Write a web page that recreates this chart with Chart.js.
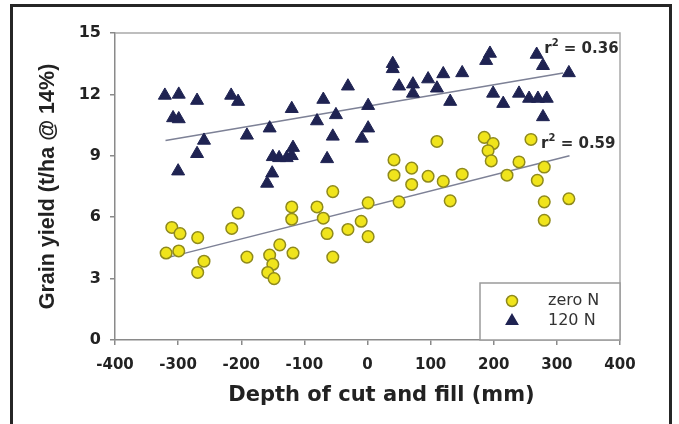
<!DOCTYPE html>
<html>
<head>
<meta charset="utf-8">
<script src="https://cdn.jsdelivr.net/npm/chart.js@4.4.1/dist/chart.umd.min.js"></script>
<style>
  html, body { margin: 0; padding: 0; background: #fff; overflow: hidden; }
  #wrap { position: relative; width: 679px; height: 424px; }
  #frame { position: absolute; left: 10px; top: 4px; width: 662px; height: 440px; box-sizing: border-box; border: 3px solid #262626; pointer-events: none; }
  canvas { position: absolute; left: 0; top: 0; }
</style>
</head>
<body>
<div id="wrap">
  <canvas id="chart" width="679" height="424"></canvas>
  <div id="frame"></div>
</div>
<script>
// zero N plots (circles)
const zeroNX = [-310, -297, -269, -319, -299, -259, -269, -215, -205, -191, -155, -139, -118, -150, -158, -148,
  -120, -120, -80, -70, -55, -64, -55, -31, -10, 1, 1, 42, 42, 70, 70, 96, 120, 150, 110, 50, 131,
  185, 199, 191, 196, 259, 221, 240, 280, 269, 280, 319, 280];
const zeroNY = [5.5, 5.2, 5.0, 4.25, 4.35, 3.85, 3.3, 5.45, 6.2, 4.05, 4.15, 4.65, 4.25, 3.7, 3.3, 3.0,
  6.5, 5.9, 6.5, 5.95, 7.25, 5.2, 4.05, 5.4, 5.8, 5.05, 6.7, 8.8, 8.05, 8.4, 7.6, 8.0, 7.75, 8.1, 9.7, 6.75, 6.8,
  9.9, 9.6, 9.25, 8.75, 9.8, 8.05, 8.7, 8.45, 7.8, 6.75, 6.9, 5.85];

// 120 N plots (triangles)
const n120X = [-321, -299, -270, -216, -205, -308, -299, -120, -259, -191, -155, -270, -300, -150, -140, -128,
  -118, -120, -151, -159, -70, -31, -80, -50, 1, -55, 1, -9, -64, 40, 40, 50, 72, 72, 96, 110, 120, 150, 131,
  188, 194, 268, 278, 319, 199, 215, 240, 256, 270, 284, 278];
const n120Y = [11.95, 12.0, 11.7, 11.95, 11.65, 10.85, 10.8, 11.3, 9.75, 10.0, 10.35, 9.1, 8.25, 8.95, 8.9, 8.9,
  9.4, 9.0, 8.15, 7.65, 11.75, 12.4, 10.7, 11.0, 11.45, 9.95, 10.35, 9.85, 8.85, 13.5, 13.25, 12.4, 12.5, 12.05,
  12.75, 12.3, 13.0, 13.05, 11.65, 13.65, 14.0, 13.95, 13.4, 13.05, 12.05, 11.55, 12.05, 11.8, 11.8, 11.8, 10.9];

// fitted lines (end points)
const zeroNFitX = [-320, 320];
const zeroNFitY = [4.0, 9.0];
const n120FitX = [-320, 310];
const n120FitY = [9.75, 13.05];

// r-squared labels
const r2Values = ['0.36', '0.59'];
const r2AnchorX = [280, 275];
const r2AnchorY = [14.2, 9.57];

// axes
const xMin = -400, xMax = 400, xStep = 100;
const yMin = 0, yMax = 15, yStep = 3;

const zip = (xs, ys) => xs.map((v, i) => ({ x: v, y: ys[i] }));

const yellow = '#f0e41c';
const yellowEdge = '#8f8a1c';
const navy = '#1f2352';
const fitColor = '#7d8196';

const plotFrame = {
  id: 'plotFrame',
  beforeDatasetsDraw(chart) {
    const { ctx, chartArea: a } = chart;
    ctx.save();
    ctx.strokeStyle = '#a9a9a9';
    ctx.lineWidth = 1.5;
    ctx.beginPath();
    ctx.moveTo(a.left, a.top);
    ctx.lineTo(a.right, a.top);
    ctx.lineTo(a.right, a.bottom);
    ctx.stroke();
    ctx.restore();
  }
};

const r2Text = {
  id: 'r2Text',
  afterDatasetsDraw(chart) {
    const { ctx, scales: { x, y } } = chart;
    ctx.save();
    ctx.fillStyle = '#2b2b2b';
    ctx.textAlign = 'left';
    ctx.textBaseline = 'middle';
    r2Values.forEach((v, i) => {
      let px = x.getPixelForValue(r2AnchorX[i]);
      const py = y.getPixelForValue(r2AnchorY[i]);
      ctx.font = 'bold 15px "DejaVu Sans"';
      ctx.fillText('r', px, py);
      px += ctx.measureText('r').width;
      ctx.font = 'bold 10px "DejaVu Sans"';
      ctx.fillText('2', px, py - 6);
      px += ctx.measureText('2').width;
      ctx.font = 'bold 15px "DejaVu Sans"';
      ctx.fillText(' = ' + v, px, py);
    });
    ctx.restore();
  }
};

const boxLegend = {
  id: 'boxLegend',
  afterDraw(chart) {
    const { ctx, chartArea: a } = chart;
    const w = 140, h = 57;
    const bx = a.right - w, by = a.bottom - h;
    ctx.save();
    ctx.fillStyle = '#fff';
    ctx.fillRect(bx, by, w, h);
    ctx.strokeStyle = '#9a9a9a';
    ctx.lineWidth = 1.5;
    ctx.strokeRect(bx, by, w, h);
    const items = chart.data.datasets.filter(d => d.inLegend);
    items.forEach((d, i) => {
      const mx = bx + 32, my = by + 18 + i * 20;
      ctx.fillStyle = d.backgroundColor;
      ctx.strokeStyle = d.borderColor;
      ctx.lineWidth = 1.5;
      ctx.beginPath();
      if (d.pointStyle === 'triangle') {
        const r = 6.5;
        ctx.moveTo(mx, my - r);
        ctx.lineTo(mx + r * 0.866, my + r * 0.5);
        ctx.lineTo(mx - r * 0.866, my + r * 0.5);
        ctx.closePath();
      } else {
        ctx.arc(mx, my, 5.5, 0, Math.PI * 2);
      }
      ctx.fill();
      ctx.stroke();
      ctx.fillStyle = '#333';
      ctx.font = '16px "DejaVu Sans"';
      ctx.textAlign = 'left';
      ctx.textBaseline = 'middle';
      ctx.fillText(d.label, bx + 68, my);
    });
    ctx.restore();
  }
};

const xTitle = {
  id: 'xTitle',
  afterDraw(chart) {
    const { ctx, chartArea: a } = chart;
    ctx.save();
    ctx.fillStyle = '#222';
    ctx.font = 'bold 21px "DejaVu Sans"';
    ctx.textAlign = 'center';
    ctx.textBaseline = 'middle';
    ctx.fillText('Depth of cut and fill (mm)', (a.left + a.right) / 2 + 14, 396);
    ctx.restore();
  }
};

Chart.defaults.font.family = '"DejaVu Sans"';
Chart.defaults.color = '#222';

new Chart(document.getElementById('chart'), {
  type: 'scatter',
  data: {
    datasets: [
      {
        label: 'zero N', inLegend: true,
        data: zip(zeroNX, zeroNY),
        pointStyle: 'circle', pointRadius: 5.8, borderWidth: 1.5,
        backgroundColor: yellow, borderColor: yellowEdge, order: 0
      },
      {
        label: '120 N', inLegend: true,
        data: zip(n120X, n120Y),
        pointStyle: 'triangle', pointRadius: 7.5, borderWidth: 1,
        backgroundColor: navy, borderColor: navy, order: 0
      },
      {
        label: 'fit zero N', type: 'line',
        data: zip(zeroNFitX, zeroNFitY),
        borderColor: fitColor, borderWidth: 1.5, pointRadius: 0, fill: false, order: 1
      },
      {
        label: 'fit 120 N', type: 'line',
        data: zip(n120FitX, n120FitY),
        borderColor: fitColor, borderWidth: 1.5, pointRadius: 0, fill: false, order: 1
      }
    ]
  },
  options: {
    responsive: false,
    devicePixelRatio: 1,
    animation: false,
    layout: { padding: { left: 0, top: 33, right: 59, bottom: 0 } },
    plugins: {
      legend: { display: false },
      tooltip: { enabled: false }
    },
    scales: {
      x: {
        type: 'linear', min: xMin, max: xMax,
        afterFit(s) { s.height = 84; },
        ticks: { stepSize: xStep, padding: 11, font: { size: 15, weight: 'bold' }, color: '#222' },
        grid: { drawOnChartArea: false, drawTicks: true, tickLength: 5, color: '#8a8a8a', lineWidth: 1.5 },
        border: { display: true, color: '#8a8a8a', width: 1.5 }
      },
      y: {
        type: 'linear', min: yMin, max: yMax,
        afterFit(s) { s.width = 115; },
        ticks: { stepSize: yStep, padding: 9, font: { size: 16, weight: 'bold' }, color: '#222' },
        grid: { drawOnChartArea: false, drawTicks: true, tickLength: 5, color: '#8a8a8a', lineWidth: 1.5 },
        border: { display: true, color: '#8a8a8a', width: 1.5 },
        title: {
          display: true, text: 'Grain yield (t/ha @ 14%)', color: '#222',
          font: { family: '"Liberation Sans"', size: 21.5, weight: 'bold' },
          padding: { top: 35, bottom: 0 }
        }
      }
    }
  },
  plugins: [plotFrame, r2Text, boxLegend, xTitle]
});
</script>
</body>
</html>
